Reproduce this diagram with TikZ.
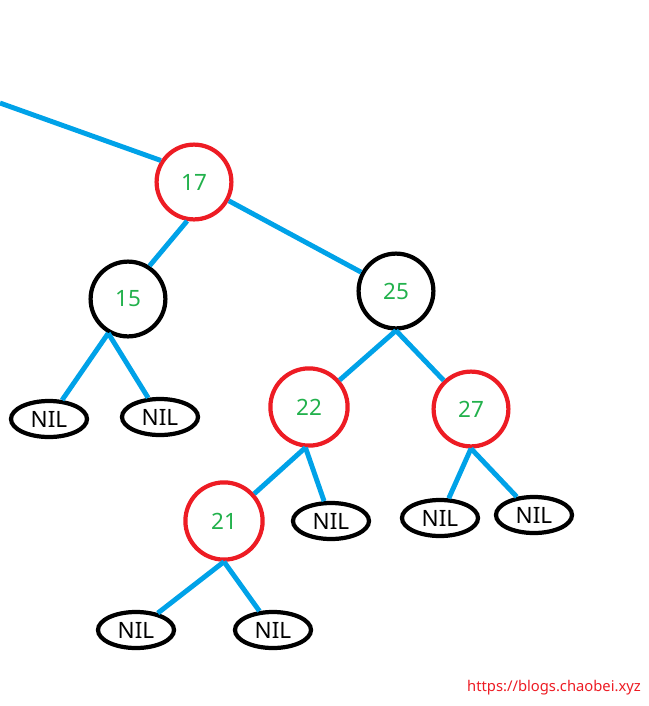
\documentclass[tikz,border=0pt]{standalone}
\usepackage{fontspec}
\setmainfont{Noto Sans}
\usetikzlibrary{shapes.geometric}
\definecolor{paintred}{RGB}{237,28,36}
\definecolor{paintgreen}{RGB}{34,177,76}
\definecolor{paintblue}{RGB}{0,162,232}

\begin{document}
\begin{tikzpicture}[
    x=0.025cm, y=-0.025cm,
    keynode/.style={
        circle,
        line width=3pt,
        minimum size=1.87cm,
        inner sep=0pt,
        text=paintgreen,
        font=\fontsize{16}{16}\selectfont
    },
    rednode/.style={keynode, draw=paintred},
    blacknode/.style={keynode, draw=black},
    nil/.style={
        ellipse,
        draw=black,
        line width=3pt,
        minimum width=1.9cm,
        minimum height=0.9cm,
        inner sep=0pt,
        font=\fontsize{16}{16}\selectfont
    },
    edge/.style={draw=paintblue, line width=3.5pt}
]
\useasboundingbox (0,0) rectangle (649,706);

% keys
\node[rednode] (n17) at (194,182) {17};
\node[blacknode] (n15) at (128,299) {15};
\node[blacknode] (n25) at (396,291) {25};
\node[rednode, minimum size=1.93cm] (n22) at (309,407) {22};
\node[rednode] (n27) at (471,409) {27};
\node[rednode, minimum size=1.93cm] (n21) at (224,521) {21};

% leaves
\node[nil] (nil1) at (49,419) {NIL};
\node[nil] (nil2) at (160,417) {NIL};
\node[nil] (nil3) at (331,521) {NIL};
\node[nil] (nil4) at (440,518) {NIL};
\node[nil] (nil5) at (534,515) {NIL};
\node[nil] (nil6) at (136,630) {NIL};
\node[nil] (nil7) at (273,630) {NIL};

\coordinate (up) at (0,103);

\draw[edge] (up) -- (n17.147);
\draw[edge] (n17.260) -- (n15.57);
\draw[edge] (n17) -- (n25);
\draw[edge] (n15.240) -- (nil1);
\draw[edge] (n15.240) -- (nil2);
\draw[edge] (n25.south) -- (n22);
\draw[edge] (n25.south) -- (n27);
\draw[edge] (n22.265) -- (n21);
\draw[edge] (n22.265) -- (nil3);
\draw[edge] (n27.south) -- (nil4);
\draw[edge] (n27.south) -- (nil5);
\draw[edge] (n21.south) -- (nil6);
\draw[edge] (n21.south) -- (nil7);

\node[text=paintred, font=\fontsize{10.5}{10.5}\selectfont] (site) at (554,688) {https://blogs.chaobei.xyz};

\end{tikzpicture}
\end{document}
